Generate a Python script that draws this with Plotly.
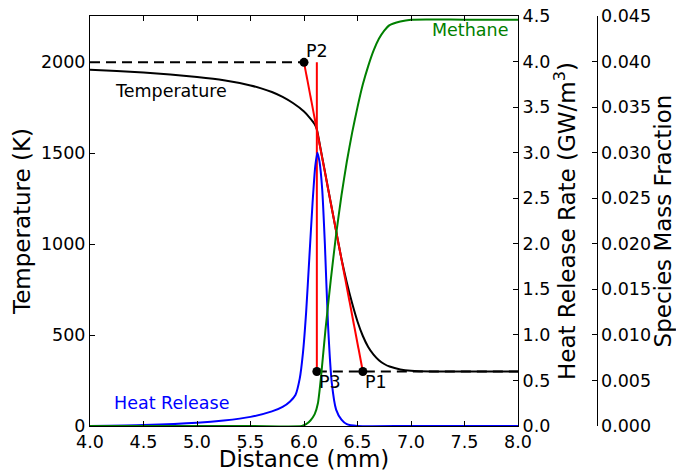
import plotly.graph_objects as go

# Flame profile across the reaction zone
distance_T = [4.0, 4.25, 4.5, 4.75, 5.0, 5.25, 5.5, 5.6, 5.7, 5.8, 5.9, 6.0, 6.05,
              6.1, 6.12, 6.15, 6.2, 6.25, 6.3, 6.35, 6.4, 6.45, 6.5, 6.55, 6.6,
              6.65, 6.7, 6.75, 6.8, 6.9, 7.0, 7.2, 7.5, 8.0]
temperature = [1960, 1953, 1944, 1933, 1919, 1901, 1873, 1857, 1837, 1810, 1775, 1730, 1698,
               1660, 1632, 1540, 1385, 1228, 1073, 920, 790, 675, 575, 495, 435,
               393, 362, 341, 327, 311, 304, 300, 300, 300]

distance_hrr = [4.0, 4.5, 5.0, 5.25, 5.5, 5.7, 5.8, 5.87, 5.92, 5.96, 5.99, 6.02,
                6.05, 6.08, 6.105, 6.125, 6.145, 6.17, 6.195, 6.225, 6.26, 6.3,
                6.35, 6.4, 6.5, 7.0, 8.0]
heat_release = [0.0, 0.01, 0.035, 0.06, 0.10, 0.16, 0.21, 0.27, 0.34, 0.52, 0.80, 1.25,
                1.85, 2.45, 2.85, 3.0, 2.9, 2.6, 2.0, 1.1, 0.47, 0.18,
                0.07, 0.02, 0.0, 0.0, 0.0]

distance_ch4 = [4.0, 5.5, 5.98, 6.02, 6.06, 6.1, 6.13, 6.16, 6.2, 6.25, 6.3, 6.35,
                6.4, 6.45, 6.5, 6.55, 6.6, 6.65, 6.7, 6.75, 6.8, 6.9, 7.0, 7.5, 8.0]
methane = [0.0, 0.0, 0.0, 0.0002, 0.0006, 0.0013, 0.0025, 0.0055, 0.0105, 0.0160, 0.0210, 0.0253,
           0.0290, 0.0322, 0.0350, 0.0375, 0.0395, 0.0412, 0.0425, 0.0434, 0.0440, 0.0444, 0.0446, 0.0446, 0.0446]

# Flame-thickness construction points
point_labels = ["P1", "P2", "P3"]
point_x = [6.55, 6.0, 6.12]
point_T = [300, 2000, 300]
T_burnt = 2000
T_unburnt = 300

FONT = "DejaVu Sans"
TICK = 17.5
TITLE = 23

W, H = 676, 472
L, R, T, B = 90, 10, 16, 46
plot_w = W - L - R
x_dom_end = (518 - L) / plot_w
species_pos = (596.5 - L) / plot_w

fig = go.Figure()

fig.add_trace(go.Scatter(x=distance_T, y=temperature, mode="lines",
                         line=dict(color="black", width=2, shape="spline", smoothing=0.6),
                         yaxis="y", showlegend=False))
# reference temperature levels
fig.add_trace(go.Scatter(x=[4.0, point_x[1]], y=[T_burnt, T_burnt], mode="lines",
                         line=dict(color="black", width=2, dash="10px,6px"), showlegend=False))
fig.add_trace(go.Scatter(x=[point_x[2], 8.0], y=[T_unburnt, T_unburnt], mode="lines",
                         line=dict(color="black", width=2, dash="10px,6px"), showlegend=False))
# tangent at max gradient and the vertical at peak heat release
fig.add_trace(go.Scatter(x=[point_x[1], point_x[0]], y=[point_T[1], point_T[0]], mode="lines",
                         line=dict(color="#ff0000", width=2), showlegend=False))
fig.add_trace(go.Scatter(x=[point_x[2], point_x[2]], y=[T_burnt, point_T[2]], mode="lines",
                         line=dict(color="#ff0000", width=2), showlegend=False))
fig.add_trace(go.Scatter(x=point_x, y=point_T, mode="markers",
                         marker=dict(color="black", size=9), showlegend=False))

fig.add_trace(go.Scatter(x=distance_hrr, y=heat_release, mode="lines",
                         line=dict(color="#0000ff", width=2, shape="spline", smoothing=0.6),
                         yaxis="y2", showlegend=False))
fig.add_trace(go.Scatter(x=distance_ch4, y=methane, mode="lines",
                         line=dict(color="#008000", width=2, shape="spline", smoothing=0.6),
                         yaxis="y3", showlegend=False))

axis_common = dict(showgrid=False, zeroline=False, showline=True, linecolor="black",
                   linewidth=1, ticks="inside", ticklen=5, tickcolor="black",
                   tickfont=dict(family=FONT, size=TICK, color="black"), automargin=False)

fig.update_layout(
    width=W, height=H,
    margin=dict(l=L, r=R, t=T, b=B),
    paper_bgcolor="white", plot_bgcolor="white",
    font=dict(family=FONT, color="black"),
    xaxis=dict(domain=[0, x_dom_end], range=[4, 8], dtick=0.5, tickformat=".1f",
               mirror="ticks",
               title=dict(text="Distance (mm)", font=dict(family=FONT, size=TITLE), standoff=6),
               **axis_common),
    yaxis=dict(range=[0, 2255], dtick=500, tickformat="d",
               title=dict(text="Temperature (K)", font=dict(family=FONT, size=TITLE), standoff=3),
               **axis_common),
    yaxis2=dict(range=[0, 4.5], dtick=0.5, tickformat=".1f", overlaying="y", side="right",
                anchor="x",
                title=dict(text="Heat Release Rate (GW/m<sup>3</sup>)",
                           font=dict(family=FONT, size=TITLE), standoff=7),
                **axis_common),
    yaxis3=dict(range=[0, 0.045], dtick=0.005, tickformat=".3f", overlaying="y", side="right",
                anchor="free", position=species_pos,
                title=dict(text="Species Mass Fraction", font=dict(family=FONT, size=TITLE),
                           standoff=8),
                **axis_common),
)

ann_font = dict(family=FONT, size=TICK)
fig.add_annotation(x=4.215, y=1840, xref="x", yref="y", text="Temperature", showarrow=False,
                   xanchor="left", yanchor="middle", font=dict(color="black", **ann_font))
fig.add_annotation(x=4.21, y=0.254, xref="x", yref="y2", text="Heat Release", showarrow=False,
                   xanchor="left", yanchor="middle", font=dict(color="#0000ff", **ann_font))
fig.add_annotation(x=7.925, y=2178, xref="x", yref="y", text="Methane", showarrow=False,
                   xanchor="right", yanchor="middle", font=dict(color="#008000", **ann_font))
for lab, px, pt in zip(point_labels, point_x, point_T):
    above = pt == T_burnt
    fig.add_annotation(x=px, y=pt, xref="x", yref="y", text=lab, showarrow=False,
                       xanchor="left", yanchor="bottom" if above else "top",
                       yshift=-1 if above else 1,
                       font=dict(color="black", **ann_font))

fig.write_html("out.html")
